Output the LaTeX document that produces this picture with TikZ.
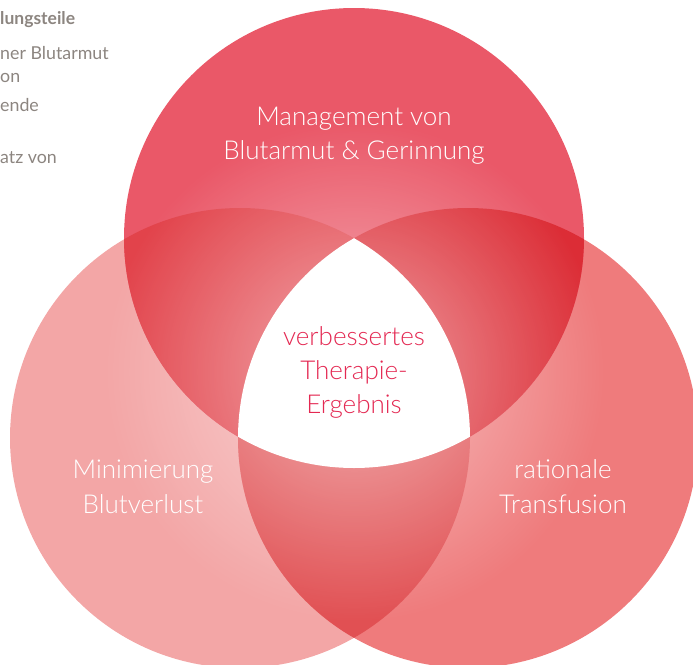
\documentclass[tikz,border=0pt]{standalone}
\usepackage{fontspec}
\setmainfont{Lato}
\newfontfamily\lightface{Lato Light}
\usetikzlibrary{fadings}

% region colours
\definecolor{topred}{HTML}{EA5868}
\definecolor{leftred}{HTML}{F3A6A6}
\definecolor{rightred}{HTML}{EF7B7C}
\definecolor{tlred}{HTML}{E2434B}
\definecolor{trred}{HTML}{DC2D36}
\definecolor{lrred}{HTML}{E15053}
\definecolor{goalred}{HTML}{E42852}
\definecolor{sidegray}{HTML}{8C8580}

% soft white glow around the common centre
\tikzfading[name=glowfade, inner color=transparent!45, outer color=transparent!100]

\begin{document}
\begin{tikzpicture}[x=1pt,y=-1pt,
  lbl/.style={font=\lightface\fontsize{26}{34}\selectfont, text=white, inner sep=0pt, anchor=base},
  goal/.style={font=\lightface\fontsize{26}{34}\selectfont, text=goalred, inner sep=0pt, anchor=base},
  side/.style={font=\fontsize{17.8}{21}\selectfont, text=sidegray, inner sep=0pt, anchor=base west},
  sidehead/.style={side, font=\bfseries\fontsize{17.5}{21}\selectfont}]
\useasboundingbox (0,0) rectangle (693,664);

% circle centres: each circle passes through the other two centres
\coordinate (cT) at (354,238);
\coordinate (cL) at (240,438);
\coordinate (cR) at (468,438);
\coordinate (mid) at (354,371.3);

% single-circle areas
\fill[leftred]  (cL) circle (230);
\fill[rightred] (cR) circle (230);
\fill[topred]   (cT) circle (230);

% pairwise overlaps
\begin{scope}
  \clip (cT) circle (230);
  \fill[tlred] (cL) circle (230);
  \fill[trred] (cR) circle (230);
\end{scope}
\begin{scope}
  \clip (cL) circle (230);
  \fill[lrred] (cR) circle (230);
\end{scope}

% common area of all three
\begin{scope}
  \clip (cT) circle (230);
  \clip (cL) circle (230);
  \fill[white] (cR) circle (230);
\end{scope}

% radial glow
\fill[white, path fading=glowfade] (mid) circle (250);

% labels
\node[lbl] (t1) at (354,125) {Management von};
\node[lbl] (t2) at (354,159) {Blutarmut \& Gerinnung};
\node[lbl] (l1) at (143,478) {Minimierung};
\node[lbl] (l2) at (143,513) {Blutverlust};
\node[lbl] (r1) at (563,478) {rationale};
\node[lbl] (r2) at (563,513) {Transfusion};
\node[goal] (g1) at (354,345) {verbessertes};
\node[goal] (g2) at (354,379) {Therapie-};
\node[goal] (g3) at (354,413) {Ergebnis};

% neighbouring text column
\node[sidehead] (s0) at (0,24) {lungsteile};
\node[side] (s1) at (0,59) {ner Blutarmut};
\node[side] (s2) at (0,82) {on};
\node[side] (s3) at (0,111) {ende};
\node[side] (s4) at (0,163) {atz von};
\end{tikzpicture}
\end{document}
